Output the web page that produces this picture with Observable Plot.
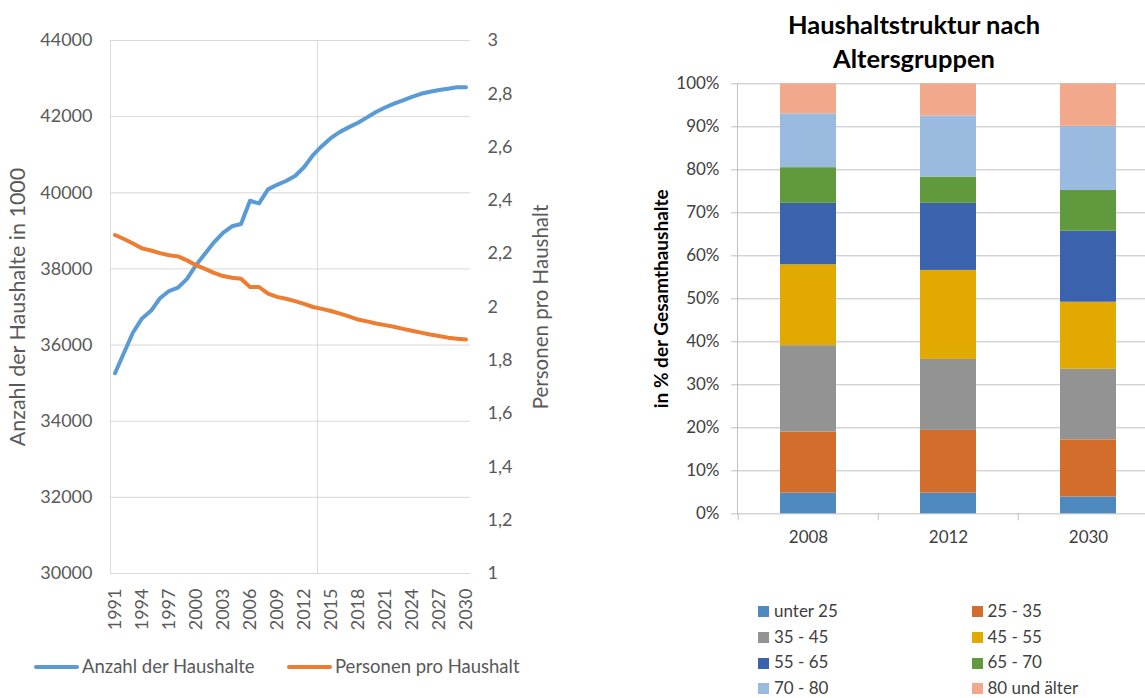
<!DOCTYPE html>
<html><head><meta charset="utf-8">
<script src="https://cdn.jsdelivr.net/npm/d3@7"></script>
<script src="https://cdn.jsdelivr.net/npm/@observablehq/plot@0.6"></script>
<style>
html,body{margin:0;padding:0;background:#fff;overflow:hidden;}
#wrap{position:relative;width:1145px;height:698px;overflow:hidden;font-family:Lato,sans-serif;}
#left,#right,#title,#legL,#legR{position:absolute;}
#left{left:0;top:0;width:560px;}
#right{left:560px;top:70px;width:610px;}
#right svg,#left svg{max-width:none;}
#title{left:701px;width:426px;top:7px;text-align:center;font-weight:700;font-size:25.5px;line-height:34px;color:#000;white-space:nowrap;}
#legL{left:0;top:654px;width:560px;height:24px;font-size:18.5px;color:#595959;}
#legL .item{position:absolute;top:0;line-height:24px;white-space:nowrap;}
#legL .sw{display:inline-block;width:45px;height:4px;border-radius:2px;vertical-align:middle;margin-right:3px;position:relative;top:-1px;}
#legR{left:758px;top:601px;display:grid;grid-template-columns:213.5px 180px;row-gap:5.7px;font-size:17px;color:#404040;}
#legR .item{line-height:20px;height:20px;white-space:nowrap;}
#legR .sw{display:inline-block;width:11px;height:11px;vertical-align:middle;margin-right:5px;position:relative;top:-1px;}
</style></head>
<body><div id="wrap">
<div id="left"></div>
<div id="legL"></div>
<div id="title">Haushaltstruktur nach<br>Altersgruppen</div>
<div id="right"></div>
<div id="legR"></div>
</div>
<script>
// ---------- left chart data ----------
const years = [1991,1992,1993,1994,1995,1996,1997,1998,1999,2000,
               2001,2002,2003,2004,2005,2006,2007,2008,2009,2010,
               2011,2012,2013,2014,2015,2016,2017,2018,2019,2020,
               2021,2022,2023,2024,2025,2026,2027,2028,2029,2030];
const households = [35260,35800,36330,36700,36900,37230,37420,37510,37740,38100,
                    38400,38700,38950,39120,39180,39790,39720,40090,40210,40310,
                    40440,40670,40990,41230,41440,41600,41725,41840,41980,42120,
                    42240,42340,42430,42520,42600,42655,42700,42735,42770,42770];
const persons = [2.27,2.255,2.238,2.22,2.212,2.202,2.194,2.19,2.175,2.157,
                 2.143,2.128,2.116,2.11,2.106,2.075,2.075,2.05,2.038,2.031,
                 2.022,2.012,2.0,1.993,1.985,1.975,1.965,1.953,1.946,1.938,
                 1.932,1.926,1.918,1.911,1.904,1.897,1.891,1.885,1.881,1.878];
const xTicks = [1991,1994,1997,2000,2003,2006,2009,2012,2015,2018,2021,2024,2027,2030];
const leftTicks = [30000,32000,34000,36000,38000,40000,42000,44000];
const rightTicks = [1,1.2,1.4,1.6,1.8,2,2.2,2.4,2.6,2.8,3];
const vGrid = [1990.5, 2013.5];
const seriesNames = ["Anzahl der Haushalte", "Personen pro Haushalt"];
const seriesColors = ["#5b9bd5", "#ed7d31"];
const leftTitle = "Anzahl der Haushalte in 1000";
const rightTitle = "Personen pro Haushalt";

// ---------- right chart data ----------
const barYears = ["2008", "2012", "2030"];
const ageGroups = ["unter 25","25 - 35","35 - 45","45 - 55","55 - 65","65 - 70","70 - 80","80 und älter"];
const ageColors = ["#4e8ac0","#d36d2b","#939393","#e2aa00","#3b62ad","#619a3c","#9bbae0","#f2a88a"];
const share2008 = [4.8, 14.2, 20.1, 18.8, 14.3, 8.3, 12.5, 7.0];
const share2012 = [4.8, 14.6, 16.5, 20.7, 15.6, 6.1, 14.2, 7.5];
const share2030 = [3.9, 13.3, 16.4, 15.6, 16.5, 9.5, 14.9, 9.9];
const pctTicks = [0,10,20,30,40,50,60,70,80,90,100];
const barTitleY = "in % der Gesamthaushalte";

// ---------- left chart ----------
const toLeft = v => 30000 + (v - 1) * 7000;
const fromLeft = d => Math.round((1 + (d - 30000) / 7000) * 10) / 10;
const rows = years.map((year, i) => ({year, households: households[i], persons: persons[i]}));

const left = Plot.plot({
  width: 560, height: 640,
  marginLeft: 110, marginRight: 90, marginTop: 40, marginBottom: 67,
  style: {fontFamily: "Lato, sans-serif", fontSize: "18px", color: "#595959", background: "transparent"},
  x: {type: "linear", domain: [1990.5, 2030.5], label: null},
  y: {domain: [30000, 44000], label: null},
  marks: [
    Plot.gridY({ticks: leftTicks, stroke: "#d9d9d9", strokeOpacity: 1}),
    Plot.gridX({ticks: vGrid, stroke: "#d9d9d9", strokeOpacity: 1}),
    Plot.axisY({ticks: leftTicks, tickSize: 0, tickPadding: 18, tickFormat: d => String(d), fill: "#595959"}),
    Plot.axisY({ticks: rightTicks.map(toLeft), anchor: "right", tickSize: 0, tickPadding: 17,
                tickFormat: d => String(fromLeft(d)).replace(".", ","), fill: "#595959"}),
    Plot.axisX({ticks: xTicks, tickSize: 0, tickRotate: -90, tickPadding: 15, tickFormat: d => String(d), fill: "#595959"}),
    Plot.line(rows, {x: "year", y: "households", stroke: seriesColors[0], strokeWidth: 4,
                     strokeLinecap: "round", strokeLinejoin: "round"}),
    Plot.line(rows, {x: "year", y: d => toLeft(d.persons), stroke: seriesColors[1], strokeWidth: 4,
                     strokeLinecap: "round", strokeLinejoin: "round"}),
    Plot.text([leftTitle], {frameAnchor: "left", textAnchor: "middle", rotate: -90, dx: -92, fontSize: 21.5, fill: "#595959"}),
    Plot.text([rightTitle], {frameAnchor: "right", textAnchor: "middle", rotate: -90, dx: 71, fontSize: 20.5, fill: "#595959"})
  ]
});
document.getElementById("left").appendChild(left);

const legL = document.getElementById("legL");
[34, 287].forEach((x, i) => {
  const it = document.createElement("div");
  it.className = "item";
  it.style.left = x + "px";
  it.innerHTML = `<span class="sw" style="background:${seriesColors[i]}"></span>${seriesNames[i]}`;
  legL.appendChild(it);
});

// ---------- right chart ----------
const allShares = [share2008, share2012, share2030];
const barRows = barYears.flatMap((yr, j) => ageGroups.map((g, i) => ({year: yr, group: g, value: allShares[j][i]})));
const RW = 610, RH = 490, RML = 177, RMR = 11.5;
const step = (RW - RML - RMR) / barYears.length;

const right = Plot.plot({
  width: RW, height: RH,
  marginLeft: RML, marginRight: RMR, marginTop: 13.3, marginBottom: 46.7,
  style: {fontFamily: "Lato, sans-serif", fontSize: "17px", color: "#404040", background: "transparent"},
  x: {domain: barYears, paddingInner: 0.6, paddingOuter: 0.3, label: null},
  y: {domain: [0, 100], label: null},
  color: {domain: ageGroups, range: ageColors},
  marks: [
    Plot.gridY({ticks: pctTicks, stroke: "#c0c0c0", strokeOpacity: 1}),
    Plot.barY(barRows, {x: "year", y: "value", fill: "group"}),
    Plot.frame({anchor: "left", stroke: "#c0c0c0"}),
    Plot.axisY({ticks: pctTicks, tickSize: 6, tickPadding: 12, tickFormat: d => d + "%", stroke: "#c0c0c0", fill: "#404040"}),
    Plot.axisX({tickSize: 7, tickFormat: () => "", dx: -step / 2, stroke: "#c0c0c0"}),
    Plot.axisX({tickSize: 0, tickPadding: 17, fill: "#404040"}),
    Plot.text([barTitleY], {frameAnchor: "left", textAnchor: "middle", rotate: -90, dx: -76, fontSize: 19, fontWeight: 700, fill: "#000"})
  ]
});
document.getElementById("right").appendChild(right);

const legR = document.getElementById("legR");
ageGroups.forEach((g, i) => {
  const it = document.createElement("div");
  it.className = "item";
  it.innerHTML = `<span class="sw" style="background:${ageColors[i]}"></span>${g}`;
  legR.appendChild(it);
});
</script>
</body></html>
